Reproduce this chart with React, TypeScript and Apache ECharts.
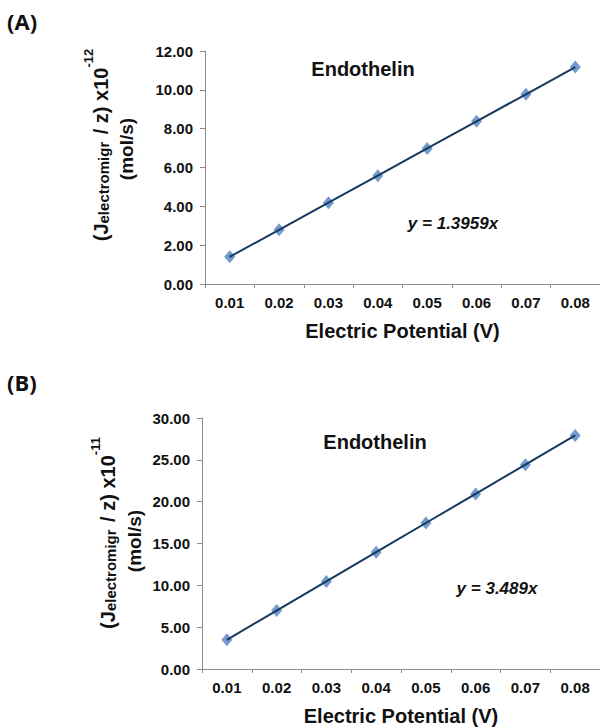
import React, { useEffect, useRef } from "react";
import * as echarts from "echarts";

const xLabels = ["0.01", "0.02", "0.03", "0.04", "0.05", "0.06", "0.07", "0.08"];
const seriesA = [1.4, 2.79, 4.19, 5.58, 6.98, 8.38, 9.77, 11.17];
const seriesB = [3.49, 6.98, 10.47, 13.96, 17.45, 20.93, 24.42, 27.91];
const yTicksA = { min: 0, max: 12, interval: 2 };
const yTicksB = { min: 0, max: 30, interval: 5 };

const FONT = "Liberation Sans, Arial, sans-serif";
const AXIS_GREY = "#8c8c8c";
const MARKER = "#4f81bd";
const LINE = "#17375e";

function xAxisCfg(gridIndex: number) {
  return {
    type: "category",
    gridIndex,
    data: xLabels,
    boundaryGap: true,
    name: "Electric Potential (V)",
    nameLocation: "middle",
    nameGap: 37,
    nameTextStyle: { fontFamily: FONT, fontWeight: "bold", fontSize: 20, color: "#111", verticalAlign: "top" },
    axisLine: { lineStyle: { color: AXIS_GREY, width: 1 } },
    axisTick: { show: true, length: 4, lineStyle: { color: AXIS_GREY } },
    axisLabel: { fontFamily: FONT, fontWeight: "bold", fontSize: 15, color: "#111", margin: 11 },
    splitLine: { show: false },
  };
}

function yAxisCfg(gridIndex: number, t: { min: number; max: number; interval: number }) {
  return {
    type: "value",
    gridIndex,
    min: t.min,
    max: t.max,
    interval: t.interval,
    axisLine: { show: true, lineStyle: { color: AXIS_GREY, width: 1 } },
    axisTick: { show: true, length: 5, lineStyle: { color: AXIS_GREY } },
    axisLabel: {
      fontFamily: FONT,
      fontWeight: "bold",
      fontSize: 15,
      color: "#111",
      margin: 12,
      formatter: (v: number) => v.toFixed(2),
    },
    splitLine: { show: false },
  };
}

function yTitle(x1: number, y1: number, x2: number, y2: number, exp: string) {
  return [
    {
      type: "text",
      x: x1,
      y: y1,
      rotation: Math.PI / 2,
      style: {
        text: "{m|(J}{s|electromigr}{m| / z) x10}{p|" + exp + "}",
        align: "center",
        verticalAlign: "middle",
        rich: {
          m: { fontFamily: FONT, fontWeight: "bold", fontSize: 20, fill: "#111", verticalAlign: "bottom", lineHeight: 23 },
          s: { fontFamily: FONT, fontWeight: "bold", fontSize: 15, fill: "#111", verticalAlign: "bottom", lineHeight: 19, padding: [0, 2, 0, 0] },
          p: { fontFamily: FONT, fontWeight: "bold", fontSize: 13, fill: "#111", verticalAlign: "top", lineHeight: 29 },
        },
      },
    },
    {
      type: "text",
      x: x2,
      y: y2,
      rotation: Math.PI / 2,
      style: {
        text: "(mol/s)",
        fontFamily: FONT,
        fontWeight: "bold",
        fontSize: 19,
        fill: "#111",
        align: "center",
        verticalAlign: "middle",
      },
    },
  ];
}

function plainText(x: number, y: number, text: string, size: number, italic = false) {
  return {
    type: "text",
    x,
    y,
    style: {
      text,
      fontFamily: FONT,
      fontWeight: "bold",
      fontStyle: italic ? "italic" : "normal",
      fontSize: size,
      fill: "#111",
      align: "center",
      verticalAlign: "middle",
    },
  };
}

export default function App() {
  const ref = useRef<HTMLDivElement>(null);
  useEffect(() => {
    if (!ref.current) return;
    const chart = echarts.init(ref.current, undefined, { renderer: "svg" });
    chart.setOption({
      animation: false,
      backgroundColor: "#ffffff",
      grid: [
        { left: 205, top: 51, width: 400, height: 233 },
        { left: 202, top: 418, width: 400, height: 251 },
      ],
      xAxis: [xAxisCfg(0), xAxisCfg(1)],
      yAxis: [yAxisCfg(0, yTicksA), yAxisCfg(1, yTicksB)],
      series: [
        {
          type: "scatter",
          xAxisIndex: 0,
          yAxisIndex: 0,
          data: seriesA,
          symbol: "diamond",
          symbolSize: [11, 13],
          itemStyle: { color: MARKER },
          z: 2,
        },
        {
          type: "line",
          xAxisIndex: 0,
          yAxisIndex: 0,
          data: seriesA,
          symbol: "none",
          lineStyle: { color: LINE, width: 2 },
          z: 3,
        },
        {
          type: "scatter",
          xAxisIndex: 1,
          yAxisIndex: 1,
          data: seriesB,
          symbol: "diamond",
          symbolSize: [11, 13],
          itemStyle: { color: MARKER },
          z: 2,
        },
        {
          type: "line",
          xAxisIndex: 1,
          yAxisIndex: 1,
          data: seriesB,
          symbol: "none",
          lineStyle: { color: LINE, width: 2 },
          z: 3,
        },
      ],
      graphic: [
        {
          type: "text",
          x: 7,
          y: 21,
          style: { text: "(A)", fontFamily: "Open Sans, sans-serif", fontWeight: "bold", fontSize: 22, fill: "#111", align: "left", verticalAlign: "middle" },
        },
        {
          type: "text",
          x: 7,
          y: 382,
          style: { text: "(B)", fontFamily: "Open Sans, sans-serif", fontWeight: "bold", fontSize: 22, fill: "#111", align: "left", verticalAlign: "middle" },
        },
        ...yTitle(96, 145, 126, 149, "-12"),
        ...yTitle(103, 533, 134, 541, "-11"),
        plainText(363, 69, "Endothelin", 20),
        plainText(453, 223, "y = 1.3959x", 17, true),
        plainText(375, 442, "Endothelin", 20),
        plainText(497, 588, "y = 3.489x", 17, true),
      ],
    });
    return () => chart.dispose();
  }, []);
  return <div ref={ref} style={{ position: "fixed", left: 0, top: 0, width: 600, height: 727 }} />;
}
